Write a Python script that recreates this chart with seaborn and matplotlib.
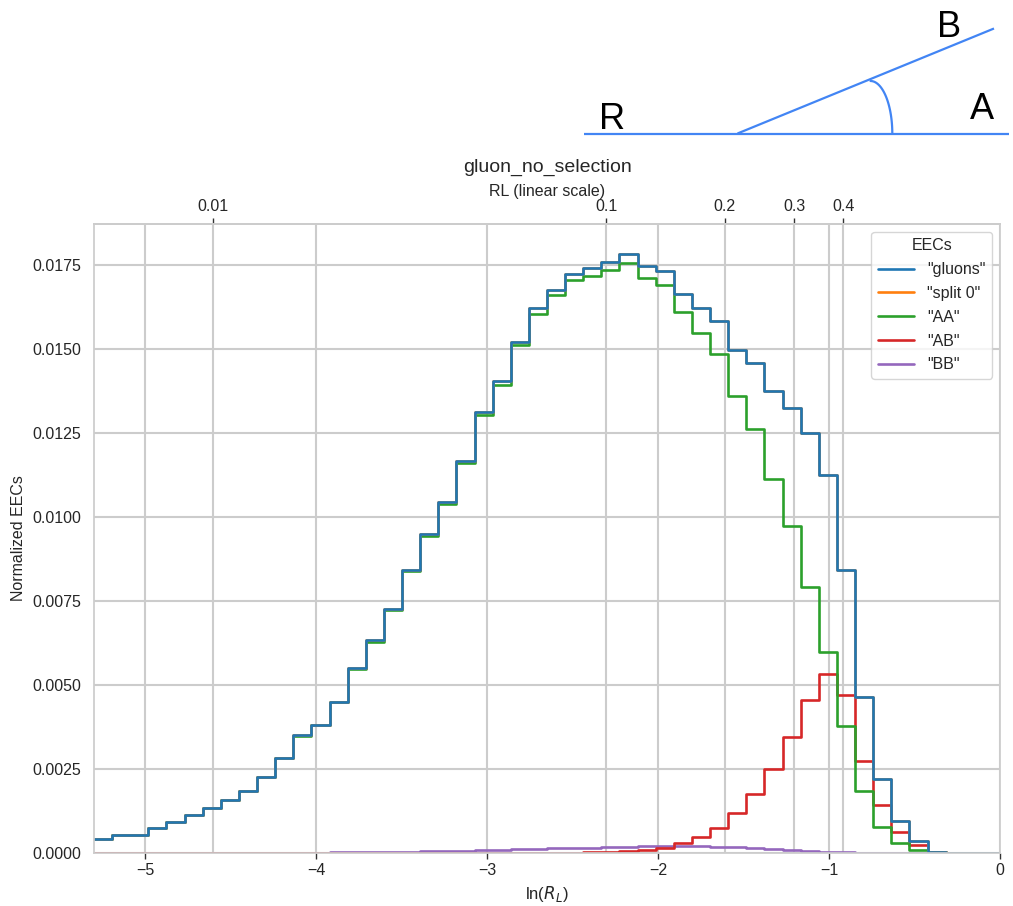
import numpy as np
import pandas as pd
import matplotlib
matplotlib.use("Agg")
import matplotlib.pyplot as plt
import seaborn as sns

# ---------------- data ----------------
rl_min = 0.005
n_bins = 50
series_names = ['"gluons"', '"split 0"', '"AA"', '"AB"', '"BB"']
top_ticks = [0.01, 0.1, 0.2, 0.3, 0.4]
top_tick_labels = ["0.01", "0.1", "0.2", "0.3", "0.4"]

gluons = [0.00041, 0.00053, 0.00055, 0.00075, 0.00091, 0.00112, 0.00133, 0.00159, 0.00186, 0.00227,
          0.00284, 0.00350, 0.00381, 0.00450, 0.00552, 0.00633, 0.00726, 0.00843, 0.00949, 0.01045,
          0.01168, 0.01312, 0.01404, 0.01521, 0.01622, 0.01677, 0.01722, 0.01740, 0.01760, 0.01784,
          0.01746, 0.01732, 0.01665, 0.01623, 0.01583, 0.01498, 0.01459, 0.01374, 0.01325, 0.01250,
          0.01126, 0.00842, 0.00463, 0.00220, 0.00095, 0.00035, 0.00004, 0.00001, 0.0, 0.0]
split0 = list(gluons)
aa = [0.00041, 0.00053, 0.00055, 0.00075, 0.00091, 0.00112, 0.00133, 0.00159, 0.00186, 0.00227,
      0.00283, 0.00349, 0.00380, 0.00448, 0.00548, 0.00629, 0.00722, 0.00838, 0.00943, 0.01038,
      0.01161, 0.01303, 0.01394, 0.01511, 0.01604, 0.01661, 0.01704, 0.01717, 0.01735, 0.01756,
      0.01710, 0.01689, 0.01609, 0.01547, 0.01485, 0.01359, 0.01263, 0.01112, 0.00973, 0.00792,
      0.00599, 0.00377, 0.00186, 0.00077, 0.00029, 0.00009, 0.00002, 0.0, 0.0, 0.0]
ab = [0.0, 0.0, 0.0, 0.0, 0.0, 0.0, 0.0, 0.0, 0.0, 0.0,
      0.0, 0.0, 0.0, 0.0, 0.0, 0.0, 0.0, 0.0, 0.0, 0.0,
      0.0, 0.0, 0.0, 0.0, 0.0, 0.0, 0.00001, 0.00002, 0.00003, 0.00005,
      0.00009, 0.00016, 0.00031, 0.00048, 0.00074, 0.00118, 0.00177, 0.00251, 0.00344, 0.00454,
      0.00533, 0.00470, 0.00274, 0.00142, 0.00063, 0.00025, 0.00003, 0.0, 0.0, 0.0]
bb = [0.0, 0.0, 0.0, 0.0, 0.0, 0.0, 0.0, 0.0, 0.0, 0.0,
      0.00001, 0.00001, 0.00001, 0.00002, 0.00002, 0.00004, 0.00004, 0.00004, 0.00006, 0.00006,
      0.00006, 0.00008, 0.00008, 0.00011, 0.00011, 0.00014, 0.00014, 0.00016, 0.00017, 0.00019,
      0.00020, 0.00021, 0.00021, 0.00020, 0.00019, 0.00017, 0.00014, 0.00011, 0.00008, 0.00005,
      0.00003, 0.00002, 0.00001, 0.0, 0.0, 0.0, 0.0, 0.0, 0.0, 0.0]

# ---------------- styling ----------------
sns.set_theme(style="whitegrid", context="notebook")
plt.rcParams["font.family"] = ["Liberation Sans", "DejaVu Sans"]
plt.rcParams["grid.linewidth"] = 1.5

edges = np.linspace(np.log(rl_min), 0.0, n_bins + 1)
centers = 0.5 * (edges[:-1] + edges[1:])

frames = []
for name, vals in zip(series_names, [gluons, split0, aa, ab, bb]):
    frames.append(pd.DataFrame({"lnRL": centers, "w": vals, "EECs": name}))
df = pd.concat(frames, ignore_index=True)

fig = plt.figure(figsize=(10.13, 9.06), dpi=100)
ax = fig.add_axes([94 / 1013, 53 / 906, 906 / 1013, 629 / 906])

sns.histplot(data=df, x="lnRL", weights="w", hue="EECs", hue_order=series_names,
             bins=edges.tolist(), element="step", fill=False, palette="tab10",
             linewidth=1.9, ax=ax)

ax.set_xlim(edges[0], 0.0)
ax.set_ylim(0, 0.01872)
ax.set_xlabel(r"ln($R_L$)", fontsize=12)
ax.set_ylabel("Normalized EECs", fontsize=11.5)
ax.tick_params(axis="x", bottom=True, length=4, width=1, color="0.2", labelsize=11.5)
ax.tick_params(axis="y", labelsize=11.5)

for t in top_ticks:
    ax.axvline(np.log(t), color="#cccccc", lw=1.5, zorder=0.5)

sec = ax.secondary_xaxis("top", functions=(np.exp, np.log))
sec.set_xticks(top_ticks, labels=top_tick_labels)
sec.tick_params(axis="x", top=True, length=4, width=1, color="0.2", labelsize=11.5, pad=3)
sec.set_xlabel("RL (linear scale)", fontsize=11.5, labelpad=2)
ax.set_title("gluon_no_selection", fontsize=14, pad=9)

sns.move_legend(ax, "upper right", title="EECs", fontsize=11.5, title_fontsize=11.5,
                handlelength=2.3, labelspacing=0.55)

# ---------------- angle diagram (decoration) ----------------
dax = fig.add_axes([0, 0, 1, 1], zorder=-1)
dax.set_xlim(0, 1013)
dax.set_ylim(906, 0)
dax.axis("off")
diag_color = "#4285F4"
dax.plot([584, 1009], [133.5, 133.5], color=diag_color, lw=1.6, solid_capstyle="butt")
dax.plot([737.5, 994], [133.5, 28.5], color=diag_color, lw=1.6, solid_capstyle="butt")
tt = np.linspace(0, np.pi / 2, 60)
dax.plot(870.5 + 21.8 * np.sin(tt), 133.5 - 52.5 * np.cos(tt), color=diag_color, lw=1.6)
dax.text(612, 129, "R", fontsize=26, ha="center", va="baseline", color="black")
dax.text(981.5, 119, "A", fontsize=26, ha="center", va="baseline", color="black")
dax.text(949, 37, "B", fontsize=26, ha="center", va="baseline", color="black")

fig.savefig("out.png", dpi=100)
